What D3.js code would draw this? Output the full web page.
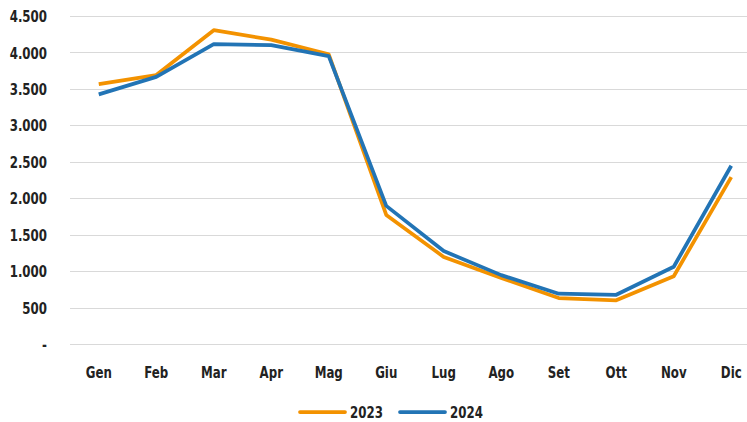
<!DOCTYPE html>
<html>
<head>
<meta charset="utf-8">
<script src="https://cdn.jsdelivr.net/npm/d3@7"></script>
<style>
  body { margin: 0; background: #fff; }
  svg text { font-family: "DejaVu Sans Condensed", "Liberation Sans Narrow", sans-serif; font-stretch: condensed; font-weight: bold; fill: #222; }
</style>
</head>
<body>
<div id="chart"></div>
<script>
// months and values
var months = ["Gen", "Feb", "Mar", "Apr", "Mag", "Giu", "Lug", "Ago", "Set", "Ott", "Nov", "Dic"];
var values2023 = [3565, 3690, 4305, 4175, 3975, 1770, 1195, 905, 630, 600, 930, 2290];
var values2024 = [3425, 3665, 4115, 4100, 3950, 1895, 1275, 945, 690, 675, 1060, 2445];
var yTicks = [0, 500, 1000, 1500, 2000, 2500, 3000, 3500, 4000, 4500];
var seriesNames = ["2023", "2024"];
var colors = ["#F39200", "#2274B5"];

var width = 747, height = 422;
var margin = {top: 16, bottom: 78, left: 70, right: -13};
var squeeze = "scale(0.82,1)";

var svg = d3.select("#chart").append("svg")
  .attr("width", width)
  .attr("height", height);

var xScale = d3.scaleBand()
  .domain(months)
  .range([margin.left, width - margin.right]);

var yScale = d3.scaleLinear()
  .domain([0, 4500])
  .range([height - margin.bottom, margin.top]);

var it = d3.formatLocale({decimal: ",", thousands: ".", grouping: [3], currency: ["€", ""]});
var fmt = it.format(",d");

// gridlines
svg.append("g")
  .selectAll("line")
  .data(yTicks)
  .enter()
  .append("line")
  .attr("x1", margin.left)
  .attr("x2", width)
  .attr("y1", d => Math.round(yScale(d)) + 0.5)
  .attr("y2", d => Math.round(yScale(d)) + 0.5)
  .attr("stroke", "#d9d9d9")
  .attr("stroke-width", 1);

// y axis labels
var yAxis = d3.axisLeft(yScale)
  .tickValues(yTicks)
  .tickSize(0)
  .tickPadding(0)
  .tickFormat(d => d == 0 ? "-" : fmt(d));
var yg = svg.append("g")
  .attr("transform", "translate(" + 47 + ",0)")
  .call(yAxis);
yg.select(".domain").remove();
yg.selectAll("text").style("font-size", "16px").attr("dy", "0.35em").attr("transform", squeeze);

// x axis labels
var xAxis = d3.axisBottom(xScale).tickSize(0).tickPadding(0);
var xg = svg.append("g")
  .attr("transform", "translate(0," + 364 + ")")
  .call(xAxis);
xg.select(".domain").remove();
xg.selectAll("text").style("font-size", "16px").attr("dy", "0.35em").attr("y", 8).attr("transform", squeeze);

var line = d3.line()
  .x((d, i) => xScale(months[i]) + xScale.bandwidth() / 2)
  .y(d => yScale(d));

[values2023, values2024].forEach(function(vals, k) {
  svg.append("path")
    .datum(vals)
    .attr("fill", "none")
    .attr("stroke", colors[k])
    .attr("stroke-width", 3.75)
    .attr("stroke-linejoin", "round")
    .attr("d", line);
});

// legend
var legend = svg.append("g").attr("transform", "translate(300,412)");
seriesNames.forEach(function(name, k) {
  var g = legend.append("g").attr("transform", "translate(" + (k * 100) + ",0)");
  g.append("line")
    .attr("x1", 0).attr("x2", 45)
    .attr("y1", 0).attr("y2", 0)
    .attr("stroke", colors[k])
    .attr("stroke-width", 3.75)
    .attr("stroke-linecap", "round");
  g.append("text")
    .attr("transform", "translate(50,0) " + squeeze)
    .attr("dy", "0.35em")
    .style("font-size", "16px")
    .text(name);
});
</script>
</body>
</html>
